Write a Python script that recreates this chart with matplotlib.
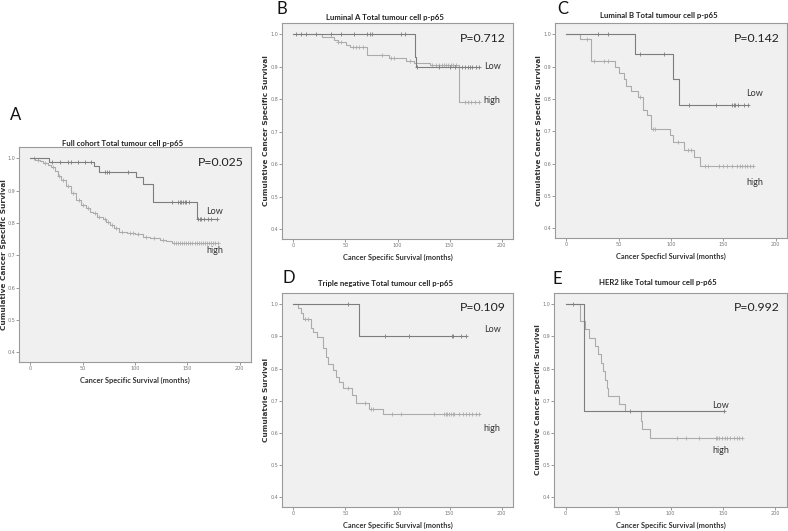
import matplotlib.pyplot as plt
import numpy as np

# ---- data (months, survival) ----
# A: full cohort
a_low_t = [18, 61, 66, 101, 108, 117, 159]
a_low_s = [0.988, 0.977, 0.958, 0.942, 0.921, 0.866, 0.812]
a_low_c = [21, 28, 36, 39, 45, 52, 58, 71, 73, 75, 93, 135, 141, 143, 144, 146,
           148, 149, 152, 160, 162, 163, 166, 170, 173, 178]
a_high_t = [4, 9, 12, 17, 20, 23, 26, 29, 34, 39, 44, 48, 53, 57, 60, 64, 69, 72,
            76, 80, 85, 92, 100, 108, 114, 124, 130, 135]
a_high_s = [0.996, 0.991, 0.985, 0.98, 0.973, 0.96, 0.946, 0.934, 0.913, 0.892,
            0.872, 0.856, 0.846, 0.835, 0.83, 0.82, 0.812, 0.804, 0.794, 0.784,
            0.773, 0.768, 0.765, 0.758, 0.753, 0.747, 0.745, 0.739]
a_high_c = [3, 7, 14, 22, 27, 31, 36, 41, 46, 50, 55, 62, 66, 71, 74, 78, 82, 88,
            95, 98, 103, 111, 118, 127, 137, 139, 141, 143, 145, 147, 149, 151,
            153, 155, 157, 159, 161, 163, 165, 167, 169, 171, 173, 175, 177, 179]

# B: luminal A
b_low_t = [116.5, 117.5]
b_low_s = [0.93, 0.901]
b_low_c = [2.5, 7, 12, 22, 36, 46, 58, 71, 73.5, 75.5, 103, 107.5, 119, 140, 150,
           155, 162, 165, 168, 170, 172, 175, 178]
b_high_t = [27.5, 39, 42.5, 50.5, 54, 71, 91.5, 108, 116, 131, 159.5]
b_high_s = [0.991, 0.983, 0.978, 0.967, 0.96, 0.937, 0.927, 0.918, 0.912, 0.905, 0.792]
b_high_c = [43, 46, 57, 60, 63, 67, 85, 94, 97, 112, 133, 137, 140, 143, 145, 147,
            149, 151, 153, 156, 165, 168, 171, 174, 178]

# C: luminal B
c_low_t = [66, 102, 108]
c_low_s = [0.939, 0.862, 0.782]
c_low_c = [30, 39.5, 70, 93.5, 117, 143, 158, 160, 161.5, 164, 169.5, 174]
c_high_t = [13, 23.5, 46, 50, 55.5, 57, 62, 68, 73, 77.5, 81, 99, 102, 112, 122, 128]
c_high_s = [0.985, 0.918, 0.900, 0.880, 0.862, 0.841, 0.825, 0.807, 0.766, 0.751,
            0.707, 0.689, 0.668, 0.642, 0.621, 0.593]
c_high_c = [20, 26, 36, 39.5, 70, 82.5, 85, 106.5, 116.5, 119, 132.5, 135, 145.5,
            150, 153.5, 158, 163, 166, 168, 170.5, 173, 176, 178]

# D: triple negative
d_low_t = [62.7]
d_low_s = [0.9]
d_low_c = [52, 88, 111, 152, 153.5, 161, 166]
d_high_t = [4, 7.3, 9.6, 17, 18.5, 22.7, 28, 31.3, 33.6, 37.7, 41, 44.2, 47.3,
            56.3, 60, 72.3, 85.7]
d_high_s = [0.988, 0.972, 0.954, 0.925, 0.913, 0.899, 0.863, 0.837, 0.814, 0.796,
            0.775, 0.758, 0.739, 0.718, 0.693, 0.675, 0.658]
d_high_c = [11.5, 13.7, 52.8, 69, 75, 76.5, 95, 103, 135.5, 145, 146.5, 148, 149.5,
            151.5, 153, 154.5, 159, 162.5, 165.5, 169, 172, 175, 178.5]

# E: HER2 like
e_low_t = [17.7]
e_low_s = [0.667]
e_low_c = [7, 61, 151]
e_high_t = [13.5, 18.3, 22.5, 28.3, 30.5, 33.7, 35.3, 37.5, 39.2, 40.2, 51.4, 56.2,
            72.2, 73.2, 80.9]
e_high_s = [0.948, 0.922, 0.896, 0.870, 0.844, 0.818, 0.792, 0.766, 0.740, 0.716,
            0.691, 0.667, 0.638, 0.611, 0.583]
e_high_c = [106, 115, 127, 143, 144.5, 146.5, 149, 151.5, 154, 157, 160.5, 163,
            165.5, 168.5]

x_ticks = [0, 50, 100, 150, 200]
y_ticks = [0.4, 0.5, 0.6, 0.7, 0.8, 0.9, 1.0]

LOW_C = '#7d7d7d'
HIGH_C = '#ababab'
CAL = ['Lato', 'DejaVu Sans']

W, H = 788, 531
fig = plt.figure(figsize=(W / 100, H / 100), dpi=100)


def box(l, t, r, b):
    return [l / W, 1 - b / H, (r - l) / W, (b - t) / H]


def km(ax, t, s, cens, color):
    t = np.asarray(t, float)
    s = np.asarray(s, float)
    end = max(cens[-1], t[-1])
    ax.step(np.r_[0, t, end], np.r_[1.0, s, s[-1]], where='post',
            color=color, lw=0.8)
    lev = np.r_[1.0, s][np.searchsorted(t, cens, side='right')]
    ax.plot(cens, lev, '+', color=color, ms=3.2, mew=0.6)


def panel(rect, letter, letter_xy, title, title_y, ylab, ylab_x, xlab, p,
          low, high, low_xy, high_xy):
    ax = fig.add_axes(rect)
    ax.set_facecolor('#f0f0f0')
    km(ax, *high, HIGH_C)
    km(ax, *low, LOW_C)
    ax.set_xlim(-11, 211)
    ax.set_ylim(0.37, 1.035)
    ax.set_xticks(x_ticks)
    ax.set_xticklabels([str(v) for v in x_ticks])
    ax.set_yticks(y_ticks)
    ax.set_yticklabels(['%.1f' % v for v in y_ticks])
    ax.tick_params(labelsize=3.5, colors='#8a8a8a', labelcolor='#777777',
                   length=2.0, width=0.6, pad=0.8)
    for sp in ax.spines.values():
        sp.set_color('#9a9a9a')
        sp.set_linewidth(0.8)
    ax.set_ylabel(ylab, fontsize=5.3, fontweight='bold', color='#333333')
    ax.yaxis.set_label_coords(ylab_x, 0.5)
    ax.set_xlabel(xlab, fontsize=5.3, fontweight='bold', color='#333333',
                  family=CAL)
    ax.xaxis.set_label_coords(0.5, -0.068)
    ax.text(0.447, title_y, title, transform=ax.transAxes, ha='center',
            va='center', fontsize=5.6, fontweight='bold', color='#222222',
            family=CAL)
    ax.text(0.967, 0.93, p, transform=ax.transAxes, ha='right', va='center',
            fontsize=8.8, family=CAL, color='#222222')
    ax.text(low_xy[0], low_xy[1], 'Low', ha='left', va='center', fontsize=6.5,
            family=CAL, color='#333333')
    ax.text(high_xy[0], high_xy[1], 'high', ha='left', va='center', fontsize=6.5,
            family=CAL, color='#333333')
    fig.text(letter_xy[0] / W, 1 - letter_xy[1] / H, letter, ha='left',
             va='baseline', fontsize=12, family=CAL, color='#111111')
    return ax


panel(box(19, 147, 251, 362), 'A', (10, 120), 'Full cohort Total tumour cell p-p65',
      1.017, 'Cumulative Cancer Specific Survival', -0.05,
      'Cancer Specific Survival (months)',
      'P=0.025', (a_low_t, a_low_s, a_low_c), (a_high_t, a_high_s, a_high_c),
      (168, 0.836), (168, 0.716))

panel(box(282, 23, 513, 239), 'B', (277, 14), 'Luminal A Total tumour cell p-p65',
      1.027, 'Cumulative Cancer Specific Survival', -0.056,
      'Cancer Specific Survival (months)',
      'P=0.712', (b_low_t, b_low_s, b_low_c), (b_high_t, b_high_s, b_high_c),
      (183, 0.901), (183, 0.796))

panel(box(555, 23, 787, 238), 'C', (557, 14), 'Luminal B Total tumour cell p-p65',
      1.037, 'Cumulative Cancer Specific Survival', -0.056,
      'Cancer Specficl Survival (months)',
      'P=0.142', (c_low_t, c_low_s, c_low_c), (c_high_t, c_high_s, c_high_c),
      (172, 0.816), (172, 0.542))

panel(box(282, 293, 513, 507), 'D', (283, 283), 'Triple negative Total tumour cell p-p65',
      1.045, 'Cumulatvie Survival', -0.056, 'Cancer Specific Survival (months)',
      'P=0.109', (d_low_t, d_low_s, d_low_c), (d_high_t, d_high_s, d_high_c),
      (183, 0.923), (183, 0.613))

panel(box(554, 293, 787, 507), 'E', (553, 284), 'HER2 like Total tumour cell p-p65',
      1.048, 'Cumulative Cancer Specific Survival', -0.056,
      'Cancer Specific Survival (months)',
      'P=0.992', (e_low_t, e_low_s, e_low_c), (e_high_t, e_high_s, e_high_c),
      (140, 0.684), (140, 0.547))

fig.savefig('out.png', dpi=100, facecolor='white')
